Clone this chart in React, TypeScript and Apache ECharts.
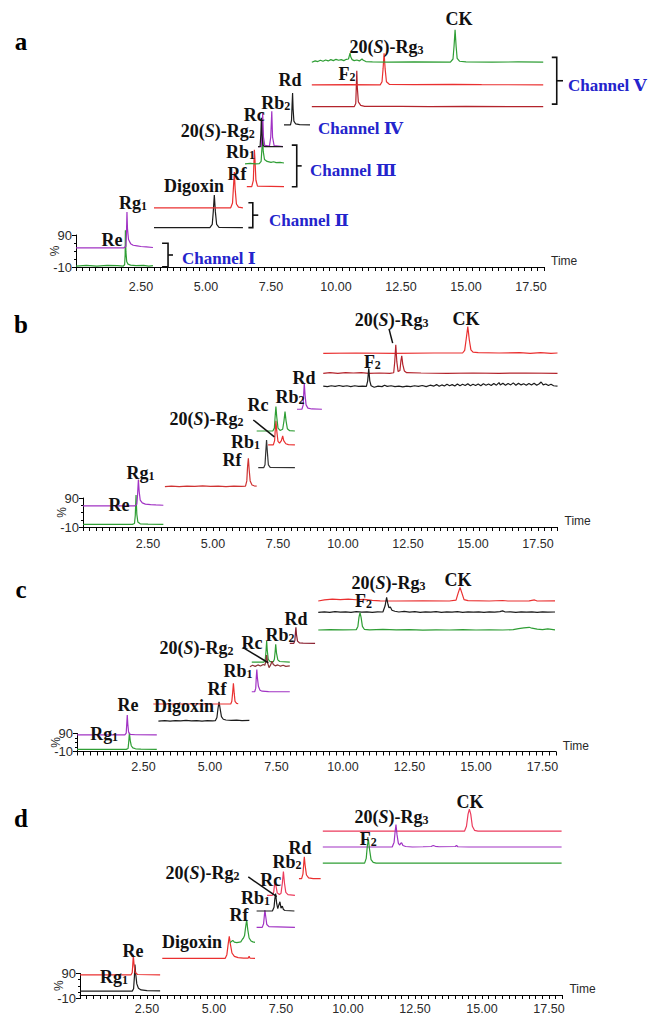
import React, { useEffect, useRef } from "react";
import * as echarts from "echarts";

type Pt = [number, number];

// ===== Panel a : traces (time min, intensity % above the trace baseline) =====
const aGreenRe: Pt[] = [[0,0],[0.4,2],[0.8,0],[1.2,2],[1.6,1],[1.82,0],[1.87,4],[1.89,35],[1.9,112],[1.92,45],[1.95,14],[2.0,6],[2.1,3],[2.3,1],[2.6,2],[2.8,0],[2.96,1]];
const aPurpleRg1: Pt[] = [[0,0],[1.85,0],[1.92,5],[1.94,40],[1.96,112],[1.98,60],[2.02,26],[2.1,13],[2.2,8],[2.35,6],[2.5,4],[2.7,3],[2.96,1]];
const aBlackDigoxin: Pt[] = [[3.0,0],[5.15,0],[5.24,10],[5.28,50],[5.32,102],[5.36,50],[5.41,10],[5.5,1],[6.42,0]];
const aRedRf: Pt[] = [[3.0,0],[5.95,0],[6.02,15],[6.06,70],[6.09,112],[6.12,60],[6.17,12],[6.25,2],[6.42,0]];
const aRedRb1: Pt[] = [[6.57,0],[6.76,0],[6.82,20],[6.85,90],[6.86,115],[6.88,90],[6.92,20],[6.98,2],[8.0,0]];
const aGreenRg2: Pt[] = [[6.5,0],[6.7,2],[6.9,0],[7.05,1],[7.12,8],[7.16,60],[7.18,106],[7.2,40],[7.25,14],[7.35,8],[7.5,5],[7.6,7],[7.7,4],[7.85,5],[8.0,3]];
const aPurpleRcRb2: Pt[] = [[7.0,0],[7.12,0],[7.15,30],[7.18,105],[7.21,30],[7.26,4],[7.44,2],[7.49,30],[7.53,111],[7.56,30],[7.62,3],[7.96,0]];
const aBlackRc: Pt[] = [[7.0,0],[7.08,0],[7.11,40],[7.13,90],[7.15,40],[7.19,5],[7.25,0],[7.96,0]];
const aBlackRd: Pt[] = [[8.0,0],[8.25,0],[8.29,15],[8.31,60],[8.33,100],[8.35,50],[8.38,12],[8.45,3],[8.6,1],[9.0,0]];
const aDarkRedF2: Pt[] = [[9.07,0],[10.7,0],[10.76,10],[10.78,60],[10.8,112],[10.82,60],[10.86,15],[10.95,4],[11.1,1],[12.5,1],[13.6,0],[15.0,1],[17.97,0]];
const aRedRg3: Pt[] = [[9.07,0],[10.5,1],[11.7,0],[11.77,10],[11.81,50],[11.85,99],[11.89,50],[11.94,10],[12.05,2],[13.0,1],[14.5,2],[15.6,1],[17.97,0]];
const aGreenCK: Pt[] = [[9.07,0],[9.2,4],[9.3,2],[9.4,6],[9.5,3],[9.6,7],[9.7,4],[9.8,8],[9.9,5],[10.0,9],[10.1,6],[10.2,8],[10.3,5],[10.4,9],[10.48,10],[10.52,22],[10.54,28],[10.57,16],[10.62,8],[10.7,5],[10.8,7],[10.9,4],[11.0,10],[11.05,6],[11.15,2],[11.4,1],[12.0,0],[13.0,1],[14.4,0],[14.5,10],[14.54,50],[14.58,101],[14.62,50],[14.66,12],[14.75,3],[15.0,1],[16.0,0],[17.0,1],[17.97,0]];
const aOffsets = [-7, 50, 113, 175, 241, 312, 366, 366, 434, 491, 559, 630];

const aLabelNames = ["Re", "Rg1", "Digoxin", "Rf", "Rb1", "20(S)-Rg2", "Rc", "Rb2", "Rd", "F2", "20(S)-Rg3", "CK"];
const aLabelPos: Pt[] = [[1.38,74],[2.19,190],[4.54,243],[6.19,281],[6.33,349],[5.45,414],[6.86,466],[7.68,503],[8.23,574],[10.42,593],[11.94,677],[14.73,765]];
// brace: [arm start, spine, tip, top, bottom]
const aBraces = [[3.31,3.54,3.73,64,-9],[6.63,6.8,7.01,191,113],[8.3,8.49,8.68,371,241],[18.3,18.49,18.73,645,499]];
const aChannelNames = ["Channel \u2160", "Channel \u2161", "Channel \u2162", "Channel \u2163", "Channel \u2164"];
const aChannelPos: Pt[] = [[4.08,18],[7.42,134],[9.0,293],[9.31,424],[18.92,556]];

// ===== Panel b =====
const bGreenRe: Pt[] = [[0,0],[1.9,0],[1.98,3],[2.01,30],[2.04,101],[2.07,35],[2.11,8],[2.2,2],[2.5,1],[3.09,0]];
const bPurpleRg1: Pt[] = [[0,0],[2.0,0],[2.07,5],[2.1,40],[2.13,91],[2.16,50],[2.2,20],[2.28,10],[2.4,6],[2.6,4],[2.8,3],[3.09,2]];
const bRedRf: Pt[] = [[3.15,0],[3.4,2],[3.7,0],[4.0,2],[4.3,1],[4.6,3],[4.9,1],[5.2,2],[5.5,0],[5.8,2],[6.1,1],[6.25,2],[6.3,20],[6.33,70],[6.36,98],[6.39,60],[6.43,20],[6.5,6],[6.58,3],[6.68,2]];
const bBlackRb1: Pt[] = [[6.74,0],[6.95,0],[7.0,10],[7.03,55],[7.06,95],[7.09,55],[7.13,10],[7.2,1],[8.15,0]];
const bRedRg2: Pt[] = [[7.12,0],[7.32,0],[7.37,15],[7.4,60],[7.42,83],[7.45,50],[7.5,12],[7.56,6],[7.63,15],[7.68,31],[7.72,15],[7.8,4],[7.9,1],[8.15,0]];
const bGreenRcRb2: Pt[] = [[6.68,0],[7.3,0],[7.36,10],[7.39,50],[7.42,84],[7.45,50],[7.5,10],[7.58,2],[7.68,6],[7.73,35],[7.77,67],[7.81,35],[7.86,8],[7.95,1],[8.15,0]];
const bPurpleRd: Pt[] = [[8.23,0],[8.42,0],[8.47,15],[8.49,55],[8.51,90],[8.54,50],[8.58,15],[8.65,4],[8.8,1],[9.19,0]];
const bRedCK: Pt[] = [[9.24,0],[10.5,1],[12.0,0],[13.5,1],[14.6,1],[14.68,10],[14.74,50],[14.8,92],[14.86,45],[14.92,12],[15.0,4],[15.2,2],[16.0,1],[16.8,2],[17.2,0],[17.6,2],[18.0,0],[18.25,1]];
const bDarkRedRg3: Pt[] = [[9.24,0],[9.5,2],[9.8,0],[10.1,2],[10.4,1],[10.7,2],[11.0,0],[11.4,1],[11.8,0],[11.95,2],[11.99,40],[12.03,98],[12.07,40],[12.12,6],[12.19,10],[12.23,45],[12.26,60],[12.3,30],[12.36,8],[12.45,2],[13.0,1],[14.0,0],[15.0,1],[16.0,0],[17.0,1],[18.25,0]];
const bBlackF2: Pt[] = [[9.24,2],[9.4,0],[9.55,3],[9.7,1],[9.85,4],[10.0,1],[10.15,3],[10.3,0],[10.45,3],[10.6,1],[10.75,2],[10.9,1],[10.95,20],[10.99,63],[11.03,20],[11.08,3],[11.2,-2],[11.35,2],[11.5,0],[11.6,5],[11.7,1],[11.85,3],[12.0,0],[12.15,2],[12.3,-1],[12.45,2],[12.6,0],[12.75,3],[12.9,1],[13.05,4],[13.2,0],[13.35,5],[13.5,2],[13.6,7],[13.7,1],[13.8,6],[13.9,2],[14.0,8],[14.1,3],[14.2,7],[14.3,2],[14.4,9],[14.5,3],[14.6,8],[14.7,4],[14.8,10],[14.9,3],[15.0,8],[15.1,4],[15.2,9],[15.3,3],[15.4,10],[15.5,5],[15.6,9],[15.7,4],[15.8,11],[15.9,5],[16.0,14],[16.05,6],[16.15,12],[16.25,5],[16.35,11],[16.45,6],[16.55,13],[16.65,5],[16.75,12],[16.85,6],[16.95,10],[17.05,5],[17.15,11],[17.25,6],[17.35,12],[17.45,5],[17.55,10],[17.62,16],[17.7,6],[17.8,9],[17.9,4],[18.0,8],[18.1,3],[18.25,2]];
const bOffsets = [-1, 63, 129, 194.5, 273, 321, 396, 589, 520, 474];

const bLabelNames = ["Re", "Rg1", "Rf", "Rb1", "20(S)-Rg2", "Rc", "Rb2", "Rd", "F2", "20(S)-Rg3", "CK"];
const bLabelPos: Pt[] = [[1.38,66],[2.21,176],[5.73,221],[6.25,283],[4.75,362],[6.73,411],[7.96,438],[8.5,504],[11.13,559],[11.87,704],[14.73,707]];
const bLeaders = [[6.55,359,7.36,301],[11.77,673,11.91,624]];

// ===== Panel c =====
const cGreenRe: Pt[] = [[0,0],[1.85,0],[1.92,5],[1.95,50],[1.97,92],[2.0,50],[2.04,20],[2.1,8],[2.2,3],[2.4,1],[3.0,0]];
const cPurpleRg1: Pt[] = [[0,0],[1.8,0],[1.85,10],[1.87,60],[1.89,111],[1.91,60],[1.94,15],[2.0,3],[2.2,1],[3.0,0]];
const cBlackDigoxin: Pt[] = [[3.06,0],[3.3,3],[3.5,0],[3.7,3],[3.9,1],[4.1,4],[4.3,1],[4.5,3],[4.7,0],[4.9,3],[5.1,1],[5.2,2],[5.26,20],[5.3,70],[5.34,107],[5.38,70],[5.43,25],[5.5,10],[5.6,6],[5.8,4],[6.0,5],[6.2,3],[6.48,4]];
const cRedRf: Pt[] = [[2.87,0],[5.78,0],[5.82,15],[5.85,60],[5.88,115],[5.91,60],[5.94,15],[6.0,3],[6.06,2]];
const cPurpleRb1: Pt[] = [[6.57,0],[6.68,0],[6.72,20],[6.74,80],[6.76,124],[6.78,80],[6.82,30],[6.88,8],[6.96,3],[7.2,1],[8.0,0]];
const cGreenRcRb2: Pt[] = [[6.57,0],[7.03,0],[7.08,15],[7.11,70],[7.13,117],[7.15,70],[7.19,15],[7.26,2],[7.38,2],[7.42,15],[7.45,60],[7.47,98],[7.5,50],[7.55,12],[7.62,3],[8.0,0]];
const cBrownRg2: Pt[] = [[6.5,0],[6.6,8],[6.7,2],[6.8,10],[6.9,4],[7.0,12],[7.06,8],[7.1,30],[7.13,65],[7.17,20],[7.22,-5],[7.28,10],[7.33,30],[7.38,12],[7.45,5],[7.55,10],[7.65,3],[7.75,8],[7.85,2],[8.0,5]];
const cDarkRedRd: Pt[] = [[8.0,0],[8.15,0],[8.19,15],[8.21,55],[8.23,89],[8.25,50],[8.29,12],[8.36,3],[8.5,1],[8.95,0]];
const cRedCK: Pt[] = [[9.07,0],[9.3,6],[9.6,10],[9.9,8],[10.2,10],[10.5,7],[10.8,9],[11.1,4],[11.4,1],[12.0,0],[13.0,1],[14.0,0],[14.25,5],[14.32,40],[14.4,76],[14.48,40],[14.55,8],[14.7,2],[15.5,0],[16.0,3],[16.2,0],[17.0,1],[17.2,6],[17.3,0],[17.97,1]];
const cBlackRg3: Pt[] = [[9.07,0],[9.3,3],[9.5,0],[9.7,4],[9.9,1],[10.1,3],[10.3,0],[10.5,4],[10.7,1],[10.9,3],[11.1,0],[11.3,3],[11.5,2],[11.58,35],[11.64,83],[11.69,45],[11.73,25],[11.78,30],[11.84,12],[11.95,6],[12.1,2],[12.3,5],[12.5,1],[12.7,4],[12.9,0],[13.1,3],[13.3,1],[13.5,4],[13.7,0],[13.9,3],[14.1,1],[14.3,4],[14.5,0],[14.7,3],[14.9,1],[15.1,3],[15.3,0],[15.5,3],[15.7,1],[15.9,4],[16.0,8],[16.1,2],[16.3,3],[16.5,0],[16.7,3],[16.9,1],[17.1,3],[17.3,0],[17.5,3],[17.7,1],[17.97,2]];
const cGreenF2: Pt[] = [[9.07,0],[9.5,2],[10.0,1],[10.5,2],[10.56,20],[10.6,70],[10.64,96],[10.68,70],[10.73,20],[10.8,4],[11.0,1],[11.5,3],[12.0,1],[12.5,2],[13.0,-1],[13.5,1],[14.0,0],[14.5,2],[15.0,0],[15.5,1],[16.0,0],[16.4,2],[16.6,8],[16.8,12],[17.0,15],[17.1,10],[17.3,5],[17.5,2],[17.7,6],[17.97,1]];
const cOffsets = [2, 82, 159, 254, 322, 487, 461, 591, 826, 763, 665];

const cLabelNames = ["Re", "Rg1", "Digoxin", "Rf", "Rb1", "20(S)-Rg2", "Rc", "Rb2", "Rd", "F2", "20(S)-Rg3", "CK"];
const cLabelPos: Pt[] = [[1.92,248],[1.02,87],[4.02,243],[5.26,337],[6.05,437],[4.49,565],[6.58,593],[7.63,637],[8.23,726],[10.77,826],[11.71,926],[14.32,943]];
const cLeaders = [[6.23,569,7.19,483]];

// ===== Panel d =====
const dBlackRe: Pt[] = [[0,0],[1.95,0],[2.0,10],[2.03,60],[2.05,110],[2.08,70],[2.12,30],[2.18,12],[2.28,5],[2.5,2],[2.99,1]];
const dRedRg1: Pt[] = [[0,0],[1.9,0],[1.95,10],[1.97,45],[1.99,80],[2.02,40],[2.06,10],[2.15,2],[2.99,0]];
const dRedDigoxin: Pt[] = [[3.07,0],[5.42,0],[5.48,15],[5.53,60],[5.57,91],[5.61,60],[5.67,22],[5.76,8],[5.9,3],[6.1,1],[6.28,1],[6.31,8],[6.34,1],[6.53,0]];
const dGreenRf: Pt[] = [[5.6,0],[5.65,6],[5.7,10],[5.76,3],[5.85,1],[6.0,4],[6.06,15],[6.1,20],[6.14,30],[6.18,65],[6.22,95],[6.26,55],[6.31,20],[6.38,8],[6.45,4],[6.53,2]];
const dPurpleRb1: Pt[] = [[6.59,0],[6.8,0],[6.85,15],[6.88,50],[6.9,72],[6.93,45],[6.97,12],[7.05,3],[8.02,0]];
const dBlackRg2: Pt[] = [[6.59,0],[7.18,0],[7.24,15],[7.27,50],[7.3,72],[7.34,30],[7.38,10],[7.42,25],[7.46,38],[7.5,12],[7.55,20],[7.59,6],[7.65,2],[8.0,0]];
const dPinkRcRb2: Pt[] = [[6.98,0],[7.18,0],[7.23,15],[7.26,45],[7.28,68],[7.31,40],[7.36,10],[7.44,3],[7.5,8],[7.55,50],[7.59,98],[7.63,50],[7.68,12],[7.76,3],[8.02,0]];
const dRedRd: Pt[] = [[8.17,0],[8.27,0],[8.32,20],[8.35,65],[8.37,90],[8.4,55],[8.45,15],[8.53,3],[8.7,0],[8.98,0]];
const dPinkCK: Pt[] = [[9.06,0],[14.35,0],[14.42,20],[14.48,70],[14.53,91],[14.58,70],[14.64,20],[14.72,3],[14.85,0],[17.97,0]];
const dPurpleRg3: Pt[] = [[9.06,0],[11.65,0],[11.72,20],[11.76,65],[11.79,93],[11.83,50],[11.88,15],[11.93,8],[11.97,16],[12.0,18],[12.05,6],[12.15,2],[12.4,0],[12.8,1],[13.1,2],[13.18,6],[13.26,3],[13.4,1],[14.0,2],[14.05,6],[14.1,1],[14.5,0],[17.97,0]];
const dGreenF2: Pt[] = [[9.06,0],[10.62,0],[10.68,20],[10.72,70],[10.76,99],[10.8,60],[10.86,15],[10.94,3],[11.05,0],[17.97,0]];
const dOffsets = [6, 73, 142, 206, 270, 338, 403, 472, 669, 603, 536];

const dLabelNames = ["Re", "Rg1", "Digoxin", "Rf", "Rb1", "20(S)-Rg2", "Rc", "Rb2", "Rd", "F2", "20(S)-Rg3", "CK"];
const dLabelPos: Pt[] = [[1.98,174],[1.27,63],[4.18,210],[5.93,321],[6.55,390],[4.57,496],[7.12,466],[7.72,540],[8.21,598],[10.76,635],[11.62,729],[14.55,790]];
const dLeaders = [[6.28,479,7.34,397]];

const panelLetters = ["a", "b", "c", "d"];
const yTickLabels = ["-10", "90"];

// ===== styles =====
const GREEN = "#2f9e35";
const PURPLE = "#a133c4";
const RED = "#ea3030";
const DARKRED = "#b3242c";
const BLACK = "#1c1c1c";
const PINK = "#ec3b5c";
const BROWN = "#8c3436";
const BLUE = "#2424cc";
const SERIF = "'Liberation Serif', 'Times New Roman', serif";
const SANS = "'Liberation Sans', Arial, sans-serif";

const aColors = [GREEN, PURPLE, BLACK, RED, RED, GREEN, PURPLE, BLACK, BLACK, DARKRED, RED, GREEN];
const bColors = [GREEN, PURPLE, "#cf3333", "#333333", RED, GREEN, PURPLE, RED, DARKRED, BLACK];
const cColors = [GREEN, PURPLE, BLACK, RED, PURPLE, GREEN, BROWN, "#8a2030", RED, BLACK, GREEN];
const dColors = [BLACK, RED, RED, GREEN, PURPLE, BLACK, PINK, RED, PINK, PURPLE, GREEN];

const PANELS = [
  { x0: 76, ppm: 26.0, xMax: 18.0, bottom: 267, ppu: 0.32, yMax: 790, margin: 13, letterY: 41 },
  { x0: 83, ppm: 26.0, xMax: 18.25, bottom: 527, ppu: 0.29, yMax: 760, margin: 10, letterY: 324 },
  { x0: 77, ppm: 26.6, xMax: 18.0, bottom: 751.5, ppu: 0.18, yMax: 990, margin: 8.5, letterY: 589 },
  { x0: 80, ppm: 26.8, xMax: 18.0, bottom: 998, ppu: 0.245, yMax: 830, margin: 7, letterY: 818 },
];

const PANEL_DATA = [
  { traces: [aGreenRe, aPurpleRg1, aBlackDigoxin, aRedRf, aRedRb1, aGreenRg2, aPurpleRcRb2, aBlackRc, aBlackRd, aDarkRedF2, aRedRg3, aGreenCK], offsets: aOffsets, colors: aColors, names: aLabelNames, pos: aLabelPos, leaders: [] as number[][], braces: aBraces, chNames: aChannelNames, chPos: aChannelPos },
  { traces: [bGreenRe, bPurpleRg1, bRedRf, bBlackRb1, bRedRg2, bGreenRcRb2, bPurpleRd, bRedCK, bDarkRedRg3, bBlackF2], offsets: bOffsets, colors: bColors, names: bLabelNames, pos: bLabelPos, leaders: bLeaders, braces: [] as number[][], chNames: [] as string[], chPos: [] as Pt[] },
  { traces: [cGreenRe, cPurpleRg1, cBlackDigoxin, cRedRf, cPurpleRb1, cGreenRcRb2, cBrownRg2, cDarkRedRd, cRedCK, cBlackRg3, cGreenF2], offsets: cOffsets, colors: cColors, names: cLabelNames, pos: cLabelPos, leaders: cLeaders, braces: [] as number[][], chNames: [] as string[], chPos: [] as Pt[] },
  { traces: [dBlackRe, dRedRg1, dRedDigoxin, dGreenRf, dPurpleRb1, dBlackRg2, dPinkRcRb2, dRedRd, dPinkCK, dPurpleRg3, dGreenF2], offsets: dOffsets, colors: dColors, names: dLabelNames, pos: dLabelPos, leaders: dLeaders, braces: [] as number[][], chNames: [] as string[], chPos: [] as Pt[] },
];

const RICH_TEXT: Record<string, string> = {
  "Re": "{n|Re}",
  "Rg1": "{n|Rg}{s|1}",
  "Digoxin": "{n|Digoxin}",
  "Rf": "{n|Rf}",
  "Rb1": "{n|Rb}{s|1}",
  "20(S)-Rg2": "{n|20(}{i|S}{n|)-Rg}{s|2}",
  "Rc": "{n|Rc}",
  "Rb2": "{n|Rb}{s|2}",
  "Rd": "{n|Rd}",
  "F2": "{n|F}{s|2}",
  "20(S)-Rg3": "{n|20(}{i|S}{n|)-Rg}{s|3}",
  "CK": "{n|CK}",
};
const RICH_STYLE = {
  n: { fontSize: 18, fontWeight: "bold", fontFamily: SERIF, fill: "#111", lineHeight: 18 },
  i: { fontSize: 18, fontWeight: "bold", fontStyle: "italic", fontFamily: SERIF, fill: "#111", lineHeight: 18 },
  s: { fontSize: 12, fontWeight: "bold", fontFamily: SERIF, fill: "#111", lineHeight: 8, verticalAlign: "bottom" },
};

function isMajor(v: number) {
  const k = v / 2.5;
  return v > 0.01 && Math.abs(k - Math.round(k)) < 1e-6;
}

function buildOption() {
  const grid: any[] = [];
  const xAxis: any[] = [];
  const yAxis: any[] = [];
  const series: any[] = [];
  const graphic: any[] = [];

  PANELS.forEach((P, p) => {
    const D = PANEL_DATA[p];
    const gA = 2 * p;
    const gB = 2 * p + 1;
    const h = (P.yMax + 10) * P.ppu;
    grid.push({ left: P.x0, top: P.bottom - h, width: P.xMax * P.ppm, height: h });
    grid.push({ left: P.x0, top: P.bottom - 100 * P.ppu, width: 20, height: 100 * P.ppu });

    xAxis.push({
      gridIndex: gA, type: "value", min: 0, max: P.xMax, interval: 0.25,
      axisLine: { show: true, onZero: false, lineStyle: { color: "#000", width: 1 } },
      axisTick: { show: true, length: 4, lineStyle: { color: "#000", width: 1 } },
      splitLine: { show: false },
      axisLabel: {
        formatter: (v: number) => (isMajor(v) ? v.toFixed(2) : ""),
        color: "#2a2a2a", fontSize: 12.5, fontFamily: SANS, margin: P.margin,
      },
      name: "Time", nameLocation: "end", nameGap: 7,
      nameTextStyle: { fontSize: 12, fontFamily: SANS, color: "#2a2a2a", verticalAlign: "bottom", align: "left" },
    });
    xAxis.push({ gridIndex: gB, type: "value", min: 0, max: 1, show: false });
    yAxis.push({ gridIndex: gA, type: "value", min: -10, max: P.yMax, show: false });
    yAxis.push({
      gridIndex: gB, type: "value", min: 0, max: 100, interval: 100,
      axisLine: { show: true, onZero: false, lineStyle: { color: "#000", width: 1 } },
      axisTick: { show: true, length: 4, lineStyle: { color: "#000" } },
      minorTick: { show: true, splitNumber: 4, length: 2, lineStyle: { color: "#000" } },
      splitLine: { show: false },
      axisLabel: {
        formatter: (v: number) => (v === 0 ? yTickLabels[0] : yTickLabels[1]),
        color: "#2a2a2a", fontSize: 13, fontFamily: SANS, margin: 4,
      },
      name: "%", nameLocation: "middle", nameRotate: 90, nameGap: 15, nameMoveOverlap: false,
      nameTextStyle: { fontSize: 12, fontFamily: SANS, color: "#2a2a2a" },
    });

    D.traces.forEach((tr, i) => {
      const off = D.offsets[i];
      series.push({
        type: "line", xAxisIndex: gA, yAxisIndex: gA,
        data: tr.map(([t, v]) => [t, v + off]),
        showSymbol: false, symbol: "none", silent: true, z: 3,
        lineStyle: { color: D.colors[i], width: 1.2 },
        itemStyle: { color: D.colors[i] },
      });
    });

    series.push({
      type: "custom", xAxisIndex: gA, yAxisIndex: gA, silent: true, clip: false, z: 5,
      data: D.pos,
      renderItem: (params: any, api: any) => {
        const c = api.coord([api.value(0), api.value(1)]);
        return {
          type: "text", x: c[0], y: c[1],
          style: {
            text: RICH_TEXT[D.names[params.dataIndex]], rich: RICH_STYLE,
            align: "center", verticalAlign: "middle",
            fill: "#111", fontSize: 18, fontWeight: "bold", fontFamily: SERIF,
          },
        };
      },
    });

    if (D.leaders.length) {
      series.push({
        type: "custom", xAxisIndex: gA, yAxisIndex: gA, silent: true, clip: false, z: 5,
        data: D.leaders,
        renderItem: (params: any, api: any) => {
          const p1 = api.coord([api.value(0), api.value(1)]);
          const p2 = api.coord([api.value(2), api.value(3)]);
          return { type: "line", shape: { x1: p1[0], y1: p1[1], x2: p2[0], y2: p2[1] }, style: { stroke: "#111", lineWidth: 1.5 } };
        },
      });
    }

    if (D.braces.length) {
      series.push({
        type: "custom", xAxisIndex: gA, yAxisIndex: gA, silent: true, clip: false, z: 5,
        data: D.braces,
        renderItem: (params: any, api: any) => {
          const tl = api.value(0), ts = api.value(1), tt = api.value(2), ut = api.value(3), ub = api.value(4);
          const a = api.coord([tl, ut]);
          const s1 = api.coord([ts, ut]);
          const s2 = api.coord([ts, ub]);
          const b = api.coord([tl, ub]);
          const m = api.coord([ts, (ut + ub) / 2]);
          const tip = api.coord([tt, (ut + ub) / 2]);
          return {
            type: "group",
            children: [
              { type: "polyline", shape: { points: [a, s1, s2, b] }, style: { stroke: "#111", fill: null, lineWidth: 1.6 } },
              { type: "line", shape: { x1: m[0], y1: m[1], x2: tip[0], y2: tip[1] }, style: { stroke: "#111", lineWidth: 1.6 } },
            ],
          };
        },
      });
      series.push({
        type: "custom", xAxisIndex: gA, yAxisIndex: gA, silent: true, clip: false, z: 5,
        data: D.chPos,
        renderItem: (params: any, api: any) => {
          const c = api.coord([api.value(0), api.value(1)]);
          return {
            type: "text", x: c[0], y: c[1],
            style: {
              text: D.chNames[params.dataIndex], align: "left", verticalAlign: "middle",
              fill: BLUE, fontSize: 17, fontWeight: "bold",
              fontFamily: "'Liberation Serif', 'DejaVu Serif', serif",
            },
          };
        },
      });
    }

    graphic.push({
      type: "text", x: 21, y: P.letterY,
      style: { text: panelLetters[p], fill: "#000", font: `bold 25px ${SERIF}`, align: "center", verticalAlign: "middle" },
    });
  });

  return { animation: false, backgroundColor: "#fff", grid, xAxis, yAxis, series, graphic };
}

export default function App() {
  const ref = useRef<HTMLDivElement>(null);
  useEffect(() => {
    if (!ref.current) return;
    const chart = echarts.init(ref.current, undefined, { renderer: "svg" });
    chart.setOption(buildOption() as any);
    return () => chart.dispose();
  }, []);
  return (
    <div
      ref={ref}
      style={{ position: "absolute", left: 0, top: 0, width: 650, height: 1015, background: "#fff" }}
    />
  );
}
